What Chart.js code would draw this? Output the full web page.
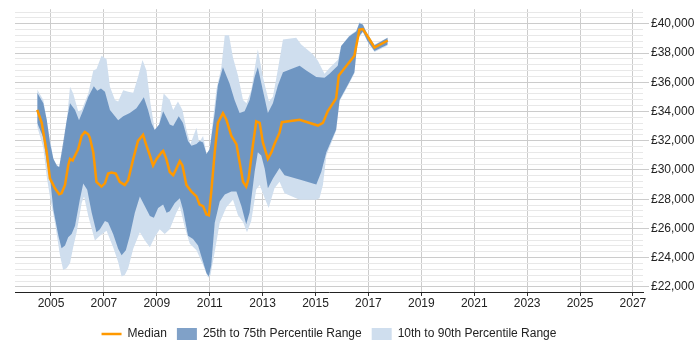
<!DOCTYPE html>
<html>
<head>
<meta charset="utf-8">
<script src="https://cdn.jsdelivr.net/npm/chart.js@4.4.1/dist/chart.umd.min.js"></script>
<style>
  html, body { margin: 0; padding: 0; background: #fff; }
  #wrap { width: 700px; height: 350px; }
</style>
</head>
<body>
<div id="wrap"><canvas id="myChart" width="700" height="350"></canvas></div>
<script>
// median salary
const medianYears = [2004.48,2004.65,2004.84,2004.96,2005.15,2005.31,2005.40,2005.53,2005.65,2005.72,2005.82,2005.91,2006.03,2006.16,2006.28,2006.41,2006.47,2006.60,2006.72,2006.91,2007.04,2007.16,2007.29,2007.45,2007.60,2007.79,2007.92,2008.11,2008.29,2008.48,2008.61,2008.74,2008.86,2008.99,2009.18,2009.24,2009.36,2009.49,2009.62,2009.74,2009.87,2009.97,2010.12,2010.31,2010.50,2010.62,2010.75,2010.88,2010.97,2011.06,2011.19,2011.31,2011.50,2011.63,2011.82,2012.01,2012.13,2012.26,2012.38,2012.47,2012.63,2012.76,2012.89,2013.01,2013.20,2013.33,2013.45,2013.64,2013.73,2014.40,2015.09,2015.28,2015.46,2015.78,2015.88,2016.47,2016.66,2016.79,2016.97,2017.23,2017.73];
const medianSalary = [34110,33220,31200,29420,28750,28340,28400,28970,30310,30760,30650,30990,31430,32330,32600,32440,32200,31200,29190,28860,29080,29750,29820,29750,29190,28970,29310,30760,31990,32400,31660,30990,30310,30760,31200,31300,30760,29860,29640,30090,30600,30310,28970,28520,28190,27630,27520,26960,26900,28520,31200,33220,33890,33440,32330,31770,30540,29190,28860,29420,31660,33330,33220,31880,30760,31200,31770,32550,33270,33440,33040,33220,34010,34900,36460,37810,39600,39640,39150,38370,38860];

// 75th percentile
const p75Years = [2004.48,2004.71,2004.84,2004.96,2005.09,2005.22,2005.31,2005.46,2005.59,2005.72,2005.91,2006.06,2006.22,2006.41,2006.62,2006.75,2006.89,2007.04,2007.23,2007.42,2007.54,2007.73,2007.98,2008.23,2008.36,2008.51,2008.67,2008.80,2008.92,2009.09,2009.24,2009.37,2009.49,2009.62,2009.83,2009.99,2010.18,2010.31,2010.50,2010.62,2010.75,2010.88,2011.00,2011.19,2011.31,2011.50,2011.75,2011.94,2012.13,2012.32,2012.51,2012.70,2012.82,2013.01,2013.20,2013.39,2013.58,2013.77,2014.08,2014.40,2014.65,2015.03,2015.34,2015.53,2015.84,2015.97,2016.28,2016.54,2016.66,2016.79,2016.97,2017.23,2017.73];
const p75Salary = [35280,34560,33440,31880,30760,30320,30200,31880,33360,34560,34110,33400,34110,35010,35730,35420,35570,35350,34110,33670,33400,33670,33890,34230,34560,34970,34110,33220,32730,33110,34010,33560,33110,33000,33670,33220,31990,31660,31770,31990,31880,31090,31430,33890,35790,37030,35910,34790,33890,34010,34790,36360,37030,35460,33890,34560,35790,36690,36910,37130,36800,36360,36310,36580,37130,38480,39150,39480,40050,39930,39260,38540,39040];

// 25th percentile
const p25Years = [2004.48,2004.71,2004.84,2004.96,2005.09,2005.28,2005.40,2005.53,2005.65,2005.78,2005.91,2006.09,2006.22,2006.37,2006.54,2006.72,2006.85,2007.04,2007.16,2007.35,2007.54,2007.67,2007.83,2007.98,2008.17,2008.36,2008.55,2008.74,2008.89,2009.05,2009.24,2009.37,2009.49,2009.68,2009.87,2009.99,2010.18,2010.37,2010.56,2010.75,2010.88,2010.97,2011.06,2011.19,2011.38,2011.57,2011.82,2012.01,2012.20,2012.38,2012.51,2012.70,2012.82,2012.95,2013.08,2013.20,2013.39,2013.64,2013.83,2014.46,2015.03,2015.22,2015.41,2015.78,2015.91,2016.28,2016.47,2016.60,2016.79,2016.97,2017.23,2017.73];
const p25Salary = [33220,32220,30540,29530,27300,25500,24650,24830,25390,25620,26180,27970,29080,28640,27070,25730,25950,26510,26400,25620,24610,24160,24500,25500,27070,28190,27520,26850,26730,27400,27630,27070,27180,27740,28070,27300,25500,25280,24830,23710,22930,22710,23490,26380,27850,28320,28520,28520,27520,26290,27110,29870,31210,30990,30090,28750,29420,30130,29640,29310,29010,29870,31210,32770,34790,36020,36690,39040,39480,38810,38140,38590];

// 90th percentile
const p90Years = [2004.48,2004.71,2004.90,2005.09,2005.22,2005.31,2005.46,2005.59,2005.72,2005.84,2006.03,2006.16,2006.41,2006.60,2006.72,2006.91,2007.10,2007.23,2007.42,2007.54,2007.73,2007.92,2008.11,2008.29,2008.46,2008.61,2008.76,2008.92,2009.09,2009.26,2009.49,2009.62,2009.80,2009.97,2010.12,2010.27,2010.50,2010.60,2010.75,2010.88,2011.00,2011.25,2011.44,2011.57,2011.73,2011.88,2012.07,2012.26,2012.39,2012.57,2012.70,2012.82,2013.01,2013.24,2013.39,2013.58,2013.77,2014.27,2014.46,2014.90,2015.09,2015.34,2015.53,2015.84,2015.97,2016.28,2016.54,2016.66,2016.79,2016.97,2017.23,2017.73];
const p90Salary = [35500,34790,32770,30760,30200,30200,31430,33220,35690,35240,34010,34110,35240,36800,36910,37810,37580,35690,34790,34680,35460,35350,35280,36360,37520,36800,34560,32770,33110,35240,34790,34110,34680,34110,32770,31770,32890,31880,32330,31090,31430,35460,37030,39210,39210,37700,36460,34790,34560,35460,36910,38260,36360,34680,35010,36910,38930,39040,38590,37920,37470,36580,36980,37520,38480,39200,39530,40100,39970,39300,38590,39060];

// 10th percentile
const p10Years = [2004.48,2004.71,2004.84,2004.96,2005.15,2005.34,2005.46,2005.59,2005.72,2005.84,2005.97,2006.16,2006.25,2006.41,2006.66,2006.85,2007.10,2007.35,2007.54,2007.67,2007.79,2007.92,2008.11,2008.36,2008.55,2008.74,2008.92,2009.11,2009.30,2009.49,2009.74,2009.87,2010.06,2010.25,2010.50,2010.75,2010.94,2011.03,2011.19,2011.38,2011.63,2011.88,2012.07,2012.26,2012.41,2012.57,2012.76,2012.89,2013.08,2013.23,2013.45,2013.64,2013.83,2014.40,2015.03,2015.15,2015.28,2015.41,2015.78,2015.91,2016.28,2016.47,2016.60,2016.79,2016.97,2017.23,2017.73];
const p10Salary = [32950,31540,29530,28190,26400,24160,23160,23270,23610,24720,25730,27740,28190,26850,25170,25500,25840,24720,23710,22710,22820,23270,24610,25730,25170,24720,25390,25950,25620,25950,27070,27520,26060,24950,24500,23490,22620,22820,24380,26400,27450,27970,26910,26440,25730,26510,28660,28970,28070,27400,28750,29200,28410,27970,27970,28070,28970,30990,32690,34700,35940,36610,38960,39420,38750,38070,38520];

const xTicks = [2005,2007,2009,2011,2013,2015,2017,2019,2021,2023,2025,2027];

function pts(xs, ys) { return xs.map((x, i) => ({ x: x, y: ys[i] })); }

Chart.defaults.font.family = "'Liberation Sans', Arial, sans-serif";
Chart.defaults.font.size = 12;
Chart.defaults.color = '#222';

const ctx = document.getElementById('myChart').getContext('2d');
const chart = new Chart(ctx, {
  type: 'line',
  data: {
    datasets: [
      { label: 'Median', data: pts(medianYears, medianSalary), borderColor: '#ff9900', backgroundColor: '#ff9900',
        borderWidth: 2.5, pointRadius: 0, pointStyle: 'line', fill: false, tension: 0 },
      { label: '25th to 75th Percentile Range', data: pts(p75Years, p75Salary), borderWidth: 0, borderColor: 'rgba(0,0,0,0)',
        backgroundColor: 'rgba(60,110,170,0.65)', pointRadius: 0, pointStyle: 'rect', fill: '+1', tension: 0 },
      { label: '', data: pts(p25Years, p25Salary), borderWidth: 0, borderColor: 'rgba(0,0,0,0)', pointRadius: 0, fill: false, tension: 0 },
      { label: '10th to 90th Percentile Range', data: pts(p90Years, p90Salary), borderWidth: 0, borderColor: 'rgba(0,0,0,0)',
        backgroundColor: '#cfdeee', pointRadius: 0, pointStyle: 'rect', fill: '+1', tension: 0 },
      { label: '', data: pts(p10Years, p10Salary), borderWidth: 0, borderColor: 'rgba(0,0,0,0)', pointRadius: 0, fill: false, tension: 0 }
    ]
  },
  options: {
    responsive: false,
    animation: false,
    layout: { padding: { top: 3, left: 15, right: 0, bottom: 0 } },
    plugins: {
      legend: {
        position: 'bottom',
        fullSize: false,
        labels: {
          usePointStyle: true, pointStyleWidth: 20, padding: 10, color: '#222',
          filter: item => item.text !== ''
        }
      },
      tooltip: { enabled: false }
    },
    scales: {
      x: {
        type: 'linear', min: 2003.64, max: 2027.38,
        afterBuildTicks: s => { s.ticks = xTicks.map(v => ({ value: v })); },
        afterFit: s => { s.height = 26; },
        ticks: { autoSkip: false, maxRotation: 0, padding: 0, callback: v => String(v), color: '#222' },
        grid: { color: '#cccccc', tickLength: 4, tickColor: '#333' },
        border: { color: '#222', width: 1 }
      },
      y: {
        position: 'right', min: 21650, max: 41000,
        afterBuildTicks: s => {
          const t = [];
          for (let v = 22000; v <= 40800; v += 400) t.push({ value: v });
          s.ticks = t;
        },
        afterFit: s => { s.width = 57; },
        ticks: { autoSkip: false, padding: 2, color: '#222',
          callback: v => (v % 2000 === 0 ? '£' + v.toLocaleString('en-GB') : '') },
        grid: {
          tickLength: 6,
          color: c => (c.tick && c.tick.value % 2000 === 0 ? '#cccccc' : '#e8e8e8'),
          tickColor: c => (c.tick && c.tick.value % 2000 === 0 ? '#cccccc' : 'rgba(0,0,0,0)')
        },
        border: { display: false }
      }
    }
  }
});
</script>
</body>
</html>
